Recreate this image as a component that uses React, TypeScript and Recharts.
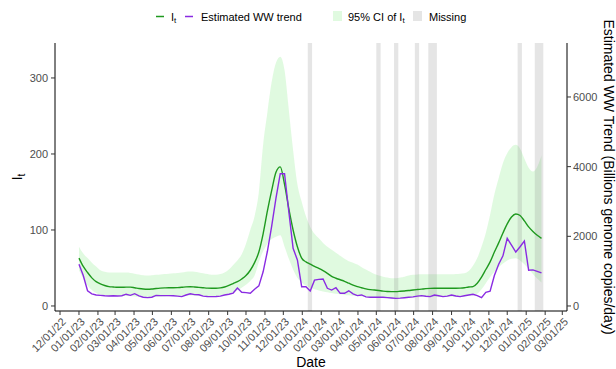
import React from "react";
import {
  ComposedChart,
  Area,
  Line,
  XAxis,
  YAxis,
  ReferenceArea,
} from "recharts";

// weekly series, first week 2023-01-01
const FIRST_WEEK = "2023-01-01";

// I_t (median)
const IT_MEDIAN = [
  63, 52, 44, 37, 32, 29, 27, 25.5, 25, 24.6,
  24.6, 24.8, 24.8, 24, 23, 22.3, 22, 22.3, 23, 23.5,
  23.8, 24, 24, 24.2, 24.6, 25.2, 25.4, 25, 24.5, 24,
  23.5, 23.3, 23.3, 23.8, 25, 27, 29.5, 32, 35.5, 40,
  47, 57, 71, 95, 125, 152, 176, 183, 160, 128,
  100, 78, 63, 58, 55, 52, 49.5, 46.5, 43, 39,
  36.5, 34.5, 32.5, 30, 27.5, 25.5, 24, 22.5, 21.5, 21,
  20.3, 19.5, 19, 18.9, 18.9, 19.3, 19.8, 20.3, 21, 21.6,
  22.2, 22.8, 23.2, 23.3, 23.3, 23.3, 23.3, 23.3, 23.3, 23.5,
  24, 25, 25.5, 30, 38, 48, 58, 71, 83, 96,
  108, 117, 121, 119, 112, 104, 98, 93, 89,
];

// 95% CI of I_t
const IT_HIGH = [
  78, 69, 63, 57, 52, 47, 45, 44.2, 44, 44,
  44, 44, 43.5, 42.5, 41.5, 40.5, 40, 40.5, 41, 41.5,
  42, 42.5, 43, 43.5, 44, 45, 45.5, 45, 44, 43,
  42, 41, 41, 42, 44, 48, 54, 60, 68, 82,
  100, 118, 150, 212, 255, 295, 320, 328, 310, 258,
  205, 160, 137, 118, 104, 95, 89, 83, 78, 74,
  70, 66, 62, 59, 57, 54.5, 51, 48, 45, 42,
  40, 38.6, 37.5, 36.5, 36.5, 37.5, 38.5, 40, 41, 41.5,
  41.7, 41.7, 41.7, 41.7, 41.7, 41.7, 41.7, 41.7, 42, 42.5,
  43, 46, 53, 63, 78, 96, 120, 147, 168, 188,
  201, 209, 212, 207, 194, 182, 177, 183, 198,
];

const IT_LOW = [
  47, 36, 27, 21, 17, 15, 14, 13.5, 13, 13,
  13, 13, 13, 12.5, 12, 11.5, 11.2, 11.5, 12, 12.3,
  12.6, 12.8, 13, 13, 13.2, 13.5, 13.8, 13.5, 13.2, 13,
  12.8, 12.8, 13, 13.5, 14.5, 16, 18, 21, 24, 28,
  33, 40, 58, 72, 82, 88, 91, 93, 78, 62,
  48, 37, 31, 27, 24, 22, 20.5, 19, 18, 17,
  16, 15.3, 14.6, 14, 13.5, 13, 12.5, 12, 11.6, 11.3,
  11, 10.8, 10.6, 10.5, 10.5, 10.6, 10.8, 11, 11.3, 11.6,
  11.8, 12, 12, 12, 12, 12, 12, 12, 12, 12.2,
  12.6, 13.2, 14.2, 16, 22, 30, 38, 45, 51, 56,
  60, 62, 62.7, 60, 55, 49, 42, 36, 31,
];

// estimated WW trend, billions genome copies/day
const WW_TREND = [
  1200, 873, 436, 349, 316, 305, 295, 288, 295, 288,
  295, 338, 305, 353, 288, 251, 240, 251, 305, 297,
  297, 297, 292, 284, 268, 316, 349, 327, 323, 284,
  273, 268, 273, 284, 316, 338, 371, 513, 393, 382,
  364, 480, 578, 982, 1571, 2291, 3098, 3797, 3797, 2706,
  1658, 1320, 554, 554, 430, 742, 764, 775, 508, 458,
  524, 364, 364, 436, 349, 297, 316, 262, 249, 249,
  249, 249, 240, 229, 218, 225, 236, 249, 262, 284,
  297, 279, 268, 316, 295, 268, 284, 316, 288, 268,
  295, 316, 336, 295, 240, 393, 425, 873, 1200, 1440,
  1942, 1746, 1549, 1702, 1866, 1026, 1036, 993, 949,
];

const MISSING: [string, string][] = [
  ["2024-01-10", "2024-01-17"],
  ["2024-05-01", "2024-05-08"],
  ["2024-05-30", "2024-06-06"],
  ["2024-07-03", "2024-07-10"],
  ["2024-07-25", "2024-08-08"],
  ["2024-12-18", "2024-12-25"],
  ["2025-01-15", "2025-01-29"],
];

const TICK_LABELS = [
  "12/01/22", "01/01/23", "02/01/23", "03/01/23", "04/01/23", "05/01/23",
  "06/01/23", "07/01/23", "08/01/23", "09/01/23", "10/01/23", "11/01/23",
  "12/01/23", "01/01/24", "02/01/24", "03/01/24", "04/01/24", "05/01/24",
  "06/01/24", "07/01/24", "08/01/24", "09/01/24", "10/01/24", "11/01/24",
  "12/01/24", "01/01/25", "02/01/25", "03/01/25",
];

const LEFT_TICKS = [0, 100, 200, 300];
const RIGHT_TICKS = [0, 2000, 4000, 6000];

const GREEN = "#1f991f";
const PURPLE = "#8a2be2";
const CI_FILL = "#90ee90";
const MISSING_FILL = "#7f7f7f";
const FONT = "'Liberation Sans', Arial, Helvetica, sans-serif";

const START = Date.UTC(2022, 11, 1);
const toDay = (iso: string) => (Date.parse(iso) - START) / 86400000;
const labelToIso = (l: string) => {
  const [mm, dd, yy] = l.split("/");
  return `20${yy}-${mm}-${dd}`;
};

const tickDays = TICK_LABELS.map((l) => toDay(labelToIso(l)));
const labelByDay: Record<string, string> = {};
TICK_LABELS.forEach((l, i) => (labelByDay[String(tickDays[i])] = l));

const firstDay = toDay(FIRST_WEEK);
const rows = IT_MEDIAN.map((m, i) => ({
  day: firstDay + 7 * i,
  median: m,
  ci: [IT_LOW[i], IT_HIGH[i]],
  ww: WW_TREND[i],
}));

const LEFT_DOMAIN = [-6.6, 346];
const SCALE = 21.82;
const RIGHT_DOMAIN = [LEFT_DOMAIN[0] * SCALE, LEFT_DOMAIN[1] * SCALE];

const DateTick = (props: any) => {
  const { x, y, payload } = props;
  const label = labelByDay[String(payload.value)] || "";
  return (
    <g transform={`translate(${x + 1},${y + 1}) rotate(-45)`}>
      <text textAnchor="end" fill="#4d4d4d" fontSize={11} dy="0.71em">
        {label}
      </text>
    </g>
  );
};

const Overlay = () => (
  <svg
    width={616}
    height={369}
    style={{ position: "absolute", left: 0, top: 0, pointerEvents: "none" }}
  >
    {/* legend */}
    <line x1={156} x2={164} y1={16.5} y2={16.5} stroke={GREEN} strokeWidth={1.5} />
    <text x={171} y={20.5} fontSize={11}>
      I<tspan fontSize={8} dy={2.5}>t</tspan>
    </text>
    <line x1={185} x2={193} y1={16.5} y2={16.5} stroke={PURPLE} strokeWidth={1.5} />
    <text x={201} y={20.5} fontSize={11}>Estimated WW trend</text>
    <rect x={333} y={11} width={9} height={10} fill={CI_FILL} fillOpacity={0.28} />
    <text x={348} y={20.5} fontSize={11}>
      95% CI of I<tspan fontSize={8} dy={2.5}>t</tspan>
    </text>
    <rect x={413} y={11} width={9} height={10} fill={MISSING_FILL} fillOpacity={0.2} />
    <text x={429} y={20.5} fontSize={11}>Missing</text>

    {/* axis titles */}
    <text transform="translate(22,177) rotate(-90)" textAnchor="middle" fontSize={14}>
      I<tspan fontSize={10} dy={3}>t</tspan>
    </text>
    <text x={311} y={367} textAnchor="middle" fontSize={14}>Date</text>
    <text transform="translate(604,177) rotate(90)" textAnchor="middle" fontSize={14}>
      Estimated WW Trend (Billions genome copies/day)
    </text>
  </svg>
);

export default function App() {
  return (
    <div
      style={{
        position: "absolute",
        left: 0,
        top: 0,
        width: 616,
        height: 369,
        background: "#fff",
        fontFamily: FONT,
      }}
    >
      <ComposedChart
        width={616}
        height={369}
        data={rows}
        margin={{ top: 43, right: 0, bottom: 0, left: 0 }}
      >
        <XAxis
          dataKey="day"
          type="number"
          domain={[-8.2, 828.7]}
          ticks={tickDays}
          interval={0}
          allowDataOverflow
          tick={<DateTick />}
          tickSize={4}
          tickMargin={1}
          tickLine={{ stroke: "#333" }}
          axisLine={{ stroke: "#000" }}
          height={58}
        />
        <YAxis
          yAxisId="left"
          domain={LEFT_DOMAIN}
          ticks={LEFT_TICKS}
          allowDataOverflow
          width={55}
          tickSize={4}
          tickMargin={3}
          tick={{ fill: "#4d4d4d", fontSize: 11 }}
          tickLine={{ stroke: "#333" }}
          axisLine={{ stroke: "#000" }}
        />
        <YAxis
          yAxisId="right"
          orientation="right"
          domain={RIGHT_DOMAIN}
          ticks={RIGHT_TICKS}
          allowDataOverflow
          width={49}
          tickSize={4}
          tickMargin={2}
          tick={{ fill: "#4d4d4d", fontSize: 11 }}
          tickLine={{ stroke: "#333" }}
          axisLine={{ stroke: "#000" }}
        />
        <Area
          yAxisId="left"
          dataKey="ci"
          type="monotone"
          stroke="none"
          fill={CI_FILL}
          fillOpacity={0.28}
          isAnimationActive={false}
          dot={false}
          activeDot={false}
        />
        {MISSING.map(([a, b], i) => (
          <ReferenceArea
            key={`miss-${i}`}
            yAxisId="left"
            x1={toDay(a)}
            x2={toDay(b)}
            fill={MISSING_FILL}
            fillOpacity={0.2}
            stroke="none"
          />
        ))}
        <Line
          yAxisId="left"
          dataKey="median"
          type="monotone"
          stroke={GREEN}
          strokeWidth={1.4}
          dot={false}
          activeDot={false}
          isAnimationActive={false}
        />
        <Line
          yAxisId="right"
          dataKey="ww"
          type="linear"
          stroke={PURPLE}
          strokeWidth={1.4}
          dot={false}
          activeDot={false}
          isAnimationActive={false}
        />
      </ComposedChart>
      <Overlay />
    </div>
  );
}
